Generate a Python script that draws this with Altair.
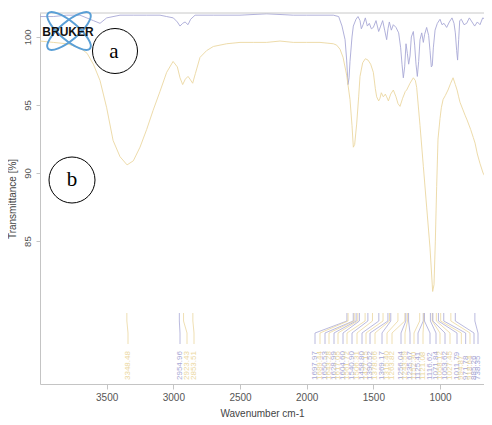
import altair as alt
import pandas as pd

# ---- spectrum b (yellow) ----
wn_b = [4000, 3900, 3800, 3700, 3647, 3600, 3550, 3500, 3452, 3400, 3347, 3300, 3250, 3200,
        3152, 3100, 3050, 3002, 2970, 2950, 2930, 2910, 2890, 2875, 2855, 2835, 2800, 2750,
        2700, 2600, 2500, 2400, 2300, 2200, 2100, 2000, 1900, 1800, 1775, 1750, 1727, 1700,
        1675, 1660, 1650, 1640, 1625, 1610, 1600, 1580, 1560, 1540, 1520, 1500, 1485, 1475,
        1460, 1450, 1440, 1425, 1410, 1400, 1387, 1370, 1350, 1330, 1315, 1300, 1280, 1260,
        1250, 1225, 1200, 1185, 1175, 1150, 1125, 1100, 1075, 1055, 1045, 1035, 1025, 1015,
        1000, 990, 977, 960, 940, 920, 902, 885, 872, 860, 850, 830, 810, 797, 770, 750, 737,
        720, 700, 677, 660, 640, 625]
t_b = [99.7, 99.6, 99.5, 99.2, 98.8, 98.0, 96.8, 94.8, 92.4, 91.2, 90.6, 90.9, 91.9, 93.2,
       94.6, 96.0, 97.4, 98.2, 97.8, 97.0, 96.5, 96.9, 97.1, 96.9, 96.6, 97.3, 98.5, 99.0,
       99.3, 99.5, 99.6, 99.6, 99.6, 99.7, 99.6, 99.6, 99.6, 99.5, 99.4, 99.1, 98.5, 97.2,
       95.4, 93.5, 91.9, 92.1, 93.6, 95.6, 97.1, 98.1, 98.4, 98.3, 98.0, 97.4, 96.2, 95.6,
       95.3, 95.5, 95.9, 95.6, 95.8, 95.6, 95.3, 95.8, 96.1, 95.6, 95.1, 94.9, 95.5, 96.0,
       96.1, 96.6, 97.0, 96.8, 96.3, 93.5, 90.5, 87.5, 84.5, 81.3, 81.8, 85.0, 89.0, 92.5,
       94.0, 94.8, 95.4, 95.7, 96.1, 96.6, 97.0, 96.5, 96.1, 95.6, 95.2, 94.7, 94.2, 93.9,
       93.2, 92.6, 92.2, 91.4, 90.7, 90.0, 89.7, 89.5, 89.4]

# ---- spectrum a (blue) ----
wn_a = [4000, 3900, 3800, 3700, 3600, 3550, 3500, 3400, 3300, 3200, 3100, 3050, 3000, 2970,
        2950, 2930, 2912, 2890, 2870, 2837, 2700, 2500, 2300, 2100, 2000, 1900, 1800, 1760,
        1735, 1712, 1700, 1690, 1682, 1675, 1660, 1650, 1630, 1615, 1600, 1590, 1577, 1560,
        1545, 1530, 1515, 1500, 1480, 1460, 1445, 1430, 1415, 1400, 1390, 1380, 1365, 1350,
        1330, 1310, 1295, 1285, 1275, 1265, 1255, 1245, 1235, 1225, 1215, 1200, 1190, 1180,
        1170, 1160, 1150, 1137, 1125, 1115, 1100, 1085, 1075, 1065, 1058, 1050, 1037, 1020,
        1000, 985, 970, 950, 930, 910, 895, 885, 875, 868, 860, 852, 840, 820, 800, 780, 760,
        740, 720, 700, 680, 660, 640, 620]
t_a = [101.5, 101.5, 101.6, 101.6, 101.2, 101.0, 101.4, 101.6, 101.6, 101.6, 101.6, 101.5,
       101.4, 101.1, 100.8, 101.0, 101.1, 100.9, 101.3, 101.6, 101.6, 101.6, 101.7, 101.6,
       101.6, 101.6, 101.6, 101.5, 100.8, 99.8, 98.3, 96.5, 97.0, 98.2, 100.0, 100.8, 101.3,
       101.5, 101.2, 100.6, 100.9, 101.4, 100.8, 101.0, 100.6, 100.7, 101.2, 100.4, 100.8,
       101.2, 100.5, 99.8, 100.6, 101.1, 100.5, 100.9, 100.7, 100.3, 99.2, 98.0, 97.0, 97.8,
       99.5, 98.8, 98.0, 98.6, 100.0, 100.4, 99.4, 98.0, 97.1, 98.2, 99.8, 100.3, 99.6,
       100.2, 100.7, 100.1, 99.0, 97.8, 97.9, 99.2, 100.5, 101.0, 101.3, 100.9, 101.0, 100.7,
       101.1, 101.4, 101.0, 100.3, 99.0, 98.3, 99.8, 101.2, 101.3, 100.9, 101.0, 101.4, 101.1,
       100.8, 101.1, 100.9, 101.4, 101.3, 101.1, 101.2]

# ---- peak labels ----
peak_values = [3348.48, 2954.96, 2923.43, 2853.51,
               1697.97, 1689.44, 1650.53, 1643.28, 1628.99, 1617.05, 1604.60, 1561.72,
               1540.90, 1506.31, 1458.80, 1427.15, 1390.52, 1378.66, 1369.17, 1315.40,
               1263.82, 1256.04, 1243.59, 1235.67, 1152.30, 1125.41, 1121.08, 1116.62,
               1071.84, 1058.12, 1053.62, 1027.45, 1011.79, 994.87, 971.78, 918.64,
               885.26, 738.35]
peak_sample = ["b", "a", "b", "b",
               "a", "b", "a", "b", "a", "b", "a", "b",
               "a", "b", "a", "b", "a", "b", "a", "b",
               "b", "a", "b", "a", "b", "a", "b", "a",
               "a", "b", "a", "b", "a", "b", "a", "b",
               "a", "a"]
label_pos = [3340, 2950, 2897.5, 2845,
             1937.5, 1900, 1862.5, 1832.5, 1795, 1765, 1727.5, 1697.5,
             1660, 1622.5, 1585, 1555, 1525, 1487.5, 1435, 1397.5,
             1360, 1292.5, 1262.5, 1225, 1195, 1165, 1127.5, 1075,
             1030, 1000, 962.5, 925, 872.5, 840, 807.5, 775,
             745, 715]

x_ticks = [1000, 1500, 2000, 2500, 3000, 3500]
y_ticks = [85, 90, 95, 100]

spec = pd.concat([
    pd.DataFrame({"wn": wn_a, "T": t_a, "sample": "a"}),
    pd.DataFrame({"wn": wn_b, "T": t_b, "sample": "b"}),
])
peaks = pd.DataFrame({"peak": peak_values, "pos": label_pos, "sample": peak_sample,
                      "label": [f"{v:.2f}" for v in peak_values]})

W, H = 444, 371
xs = alt.Scale(domain=[670, 4000], reverse=True, nice=False, zero=False)
ys = alt.Scale(domain=[74.5, 101.76], nice=False, zero=False)

line_col = alt.Color("sample:N", scale=alt.Scale(domain=["a", "b"], range=["#a8a8d6", "#ebd7a0"]), legend=None)
lead_col = alt.Color("sample:N", scale=alt.Scale(domain=["a", "b"], range=["#9a9ac4", "#e3cf8c"]), legend=None)
text_col = alt.Color("sample:N", scale=alt.Scale(domain=["a", "b"], range=["#4646b0", "#d9bd58"]), legend=None)

lines = alt.Chart(spec).mark_line(strokeWidth=0.9, clip=True).encode(
    x=alt.X("wn:Q", scale=xs, axis=alt.Axis(values=x_ticks, format="d", title="Wavenumber cm-1", grid=False,
                                              tickSize=5, labelPadding=3, titlePadding=6,
                                              labelFontSize=10, titleFontSize=10)),
    y=alt.Y("T:Q", scale=ys, axis=alt.Axis(values=y_ticks, format="d", title="Transmittance [%]", grid=False,
                                             labelAngle=270, labelAlign="center", labelBaseline="bottom",
                                             tickSize=4, labelPadding=4, titlePadding=5,
                                             labelFontSize=9.5, titleFontSize=10)),
    color=line_col,
    order=alt.Order("wn:Q"),
)

base_p = alt.Chart(peaks)
stub = base_p.mark_rule(strokeWidth=0.8).encode(
    x=alt.X("peak:Q", scale=xs), y=alt.value(300), y2=alt.value(308), color=lead_col)
diag = base_p.mark_rule(strokeWidth=0.8).encode(
    x=alt.X("peak:Q", scale=xs), x2="pos:Q", y=alt.value(308), y2=alt.value(320), color=lead_col)
drop = base_p.mark_rule(strokeWidth=0.8).encode(
    x=alt.X("pos:Q", scale=xs), y=alt.value(320), y2=alt.value(331), color=lead_col)
labels = base_p.mark_text(angle=270, align="left", baseline="middle", fontSize=8,
                          font="Liberation Sans").encode(
    x=alt.X("pos:Q", scale=xs), y=alt.value(367), text="label:N", color=text_col)

one = alt.Data(values=[{"k": 1}])
top_rule = alt.Chart(one).mark_rule(color="#c8c8c8", strokeWidth=1).encode(y=alt.value(0))

ellipse = "M -1 0 A 1 0.33 0 1 1 1 0 A 1 0.33 0 1 1 -1 0 Z"
logo1 = alt.Chart(one).mark_point(shape=ellipse, size=3000, filled=False, stroke="#5a9fd6",
                                  strokeWidth=2, angle=40, opacity=1).encode(
    x=alt.value(29), y=alt.value(18))
logo2 = alt.Chart(one).mark_point(shape=ellipse, size=3000, filled=False, stroke="#5a9fd6",
                                  strokeWidth=2, angle=140, opacity=1).encode(
    x=alt.value(29), y=alt.value(18))
bruker = alt.Chart(one).mark_text(text="BRUKER", fontSize=12, fontWeight="bold",
                                  font="Liberation Sans", color="#111111").encode(
    x=alt.value(28), y=alt.value(19))

circ_a = alt.Chart(one).mark_point(shape="circle", size=2025, filled=True, fill="white",
                                   stroke="black", strokeWidth=1, opacity=1).encode(
    x=alt.value(75), y=alt.value(38))
txt_a = alt.Chart(one).mark_text(text="a", fontSize=21, font="Liberation Serif",
                                 color="black", baseline="middle").encode(
    x=alt.value(74), y=alt.value(39))
circ_b = alt.Chart(one).mark_point(shape="circle", size=2116, filled=True, fill="white",
                                   stroke="black", strokeWidth=1, opacity=1).encode(
    x=alt.value(32), y=alt.value(167))
txt_b = alt.Chart(one).mark_text(text="b", fontSize=21, font="Liberation Serif",
                                 color="black", baseline="middle").encode(
    x=alt.value(32), y=alt.value(167))

chart = alt.layer(lines, stub, diag, drop, labels, top_rule, logo1, logo2, bruker,
                  circ_a, txt_a, circ_b, txt_b).properties(
    width=W, height=H,
    autosize=alt.AutoSizeParams(type="none"),
    padding={"left": 32, "top": 5, "right": 0, "bottom": 37},
    background="white",
).configure_view(stroke=None).configure_axis(
    domainColor="#c4c4c4", tickColor="#c4c4c4", labelColor="#555555", titleColor="#444444",
    labelFont="Liberation Sans", titleFont="Liberation Sans", titleFontWeight="normal",
)

chart.save("out.html", embed_options={"renderer": "svg", "actions": False})
